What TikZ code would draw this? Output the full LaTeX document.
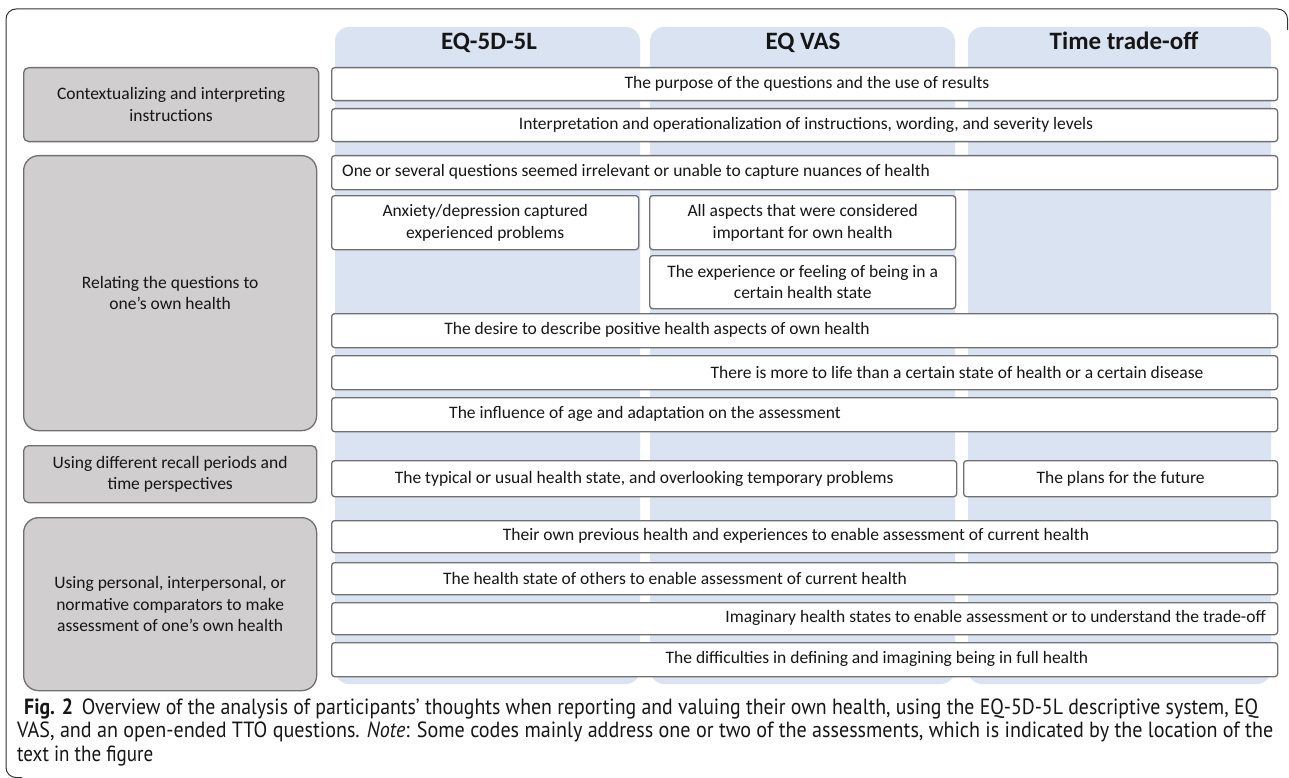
\documentclass[tikz,border=0pt]{standalone}
\usepackage{fontspec}
\usepackage{graphicx}
\setmainfont{Carlito}
\newfontfamily\capfont{PT Sans}
\definecolor{colblue}{RGB}{218,227,242}
\definecolor{catgray}{RGB}{208,206,206}
\definecolor{edgegray}{RGB}{112,112,112}
\definecolor{txtc}{RGB}{22,22,22}
\definecolor{framec}{RGB}{50,50,50}
\newsavebox\fitbox
\newcommand\fitline[2]{\sbox\fitbox{#2}\pgfmathsetmacro\fitratio{#1/\the\wd\fitbox}\scalebox{\fitratio}[1]{\usebox\fitbox}}
\tikzset{
  rowbox/.style={draw=edgegray, line width=1.3pt, fill=white, rounded corners=3pt, inner sep=0pt, anchor=north west},
  catbox/.style={draw=edgegray, line width=1.3pt, fill=catgray, rounded corners=#1, inner sep=0pt, anchor=north west},
  lbl/.style={inner sep=0pt, align=center, text=txtc},
  hdr/.style={font=\fontsize{25}{29}\selectfont\bfseries, inner sep=0pt, anchor=base, text=txtc},
  colbg/.style={fill=colblue, draw=none, rounded corners=14pt},
  capline/.style={inner sep=0pt, anchor=base west, text=txtc, font=\capfont\fontsize{22}{24}\selectfont},
}
\begin{document}
\begin{tikzpicture}[x=1pt, y=-1pt, font=\fontsize{17.5}{21.5}\selectfont]
\useasboundingbox (0,0) rectangle (1289,778);
% frame
\draw[framec, line width=1pt, rounded corners=10pt] (22,777.5) -- (6,777.5) -- (6,9) -- (1287.5,9) -- (1287.5,30);
% column backgrounds
\fill[colbg] (335,27) rectangle (640,684);
\fill[colbg] (650,27) rectangle (955,684);
\fill[colbg] (968,27) rectangle (1271,684);
% headers
\node[hdr] (h1) at (489,50) {EQ-5D-5L};
\node[hdr] (h2) at (803,50) {EQ VAS};
\node[hdr] (h3) at (1124,50) {Time trade-off};
% category boxes
\node[catbox=5pt, minimum width=295pt, minimum height=74pt] (g1) at (23,67) {};
\node[lbl] (g1t) at (g1.center) {Contextualizing and interpreting\\instructions};
\node[catbox=15pt, minimum width=293pt, minimum height=275pt] (g2) at (23,155) {};
\node[lbl] (g2t) at (g2.center) {Relating the questions to\\one’s own health};
\node[catbox=5pt, minimum width=293pt, minimum height=57pt] (g3) at (23,445) {};
\node[lbl] (g3t) at (g3.center) {Using different recall periods and\\time perspectives};
\node[catbox=15pt, minimum width=293pt, minimum height=173pt] (g4) at (23,517) {};
\node[lbl] (g4t) at (g4.center) {Using personal, interpersonal, or\\normative comparators to make\\assessment of one’s own health};
% rows
\node[rowbox, minimum width=946pt, minimum height=33pt] (r1) at (331,67) {};
\node[lbl] (r1t) at (807,83.5) {The purpose of the questions and the use of results};
\node[rowbox, minimum width=946pt, minimum height=33pt] (r2) at (331,108) {};
\node[lbl] (r2t) at (806,124.5) {Interpretation and operationalization of instructions, wording, and severity levels};
\node[rowbox, minimum width=946pt, minimum height=34pt] (r3) at (331,155) {};
\node[lbl, anchor=west] (r3t) at (342,172) {One or several questions seemed irrelevant or unable to capture nuances of health};
\node[rowbox, minimum width=307pt, minimum height=54pt] (r4a) at (331,195) {};
\node[lbl] (r4at) at (r4a.center) {Anxiety/depression captured\\experienced problems};
\node[rowbox, minimum width=306pt, minimum height=54pt] (r4b) at (649,195) {};
\node[lbl] (r4bt) at (r4b.center) {All aspects that were considered\\important for own health};
\node[rowbox, minimum width=306pt, minimum height=53pt] (r5) at (649,255) {};
\node[lbl] (r5t) at (r5.center) {The experience or feeling of being in a\\certain health state};
\node[rowbox, minimum width=946pt, minimum height=34pt] (r6) at (331,313) {};
\node[lbl] (r6t) at (657,330) {The desire to describe positive health aspects of own health};
\node[rowbox, minimum width=946pt, minimum height=34pt] (r7) at (331,355) {};
\node[lbl] (r7t) at (957,372) {There is more to life than a certain state of health or a certain disease};
\node[rowbox, minimum width=946pt, minimum height=34pt] (r8) at (331,397) {};
\node[lbl] (r8t) at (645,414) {The influence of age and adaptation on the assessment};
\node[rowbox, minimum width=625pt, minimum height=36pt] (r9a) at (331,460) {};
\node[lbl] (r9at) at (r9a.center) {The typical or usual health state, and overlooking temporary problems};
\node[rowbox, minimum width=314pt, minimum height=36pt] (r9b) at (963,460) {};
\node[lbl] (r9bt) at (r9b.center) {The plans for the future};
\node[rowbox, minimum width=946pt, minimum height=32pt] (r10) at (331,520) {};
\node[lbl] (r10t) at (796,536) {Their own previous health and experiences to enable assessment of current health};
\node[rowbox, minimum width=946pt, minimum height=32pt] (r11) at (331,562) {};
\node[lbl] (r11t) at (675,578) {The health state of others to enable assessment of current health};
\node[rowbox, minimum width=946pt, minimum height=32pt] (r12) at (331,602) {};
\node[lbl, anchor=east] (r12t) at (1266,618) {Imaginary health states to enable assessment or to understand the trade-off};
\node[rowbox, minimum width=946pt, minimum height=34pt] (r13) at (331,642) {};
\node[lbl] (r13t) at (877,659) {The difficulties in defining and imagining being in full health};
% caption
\node[capline] (c1) at (24,714) {\fitline{1234pt}{\textbf{Fig. 2}\hspace{0.45em}Overview of the analysis of participants’ thoughts when reporting and valuing their own health, using the EQ-5D-5L descriptive system, EQ}};
\node[capline] (c2) at (17,737.5) {\fitline{1256pt}{VAS, and an open-ended TTO questions. \textit{Note}: Some codes mainly address one or two of the assessments, which is indicated by the location of the}};
\node[capline] (c3) at (17,761) {\fitline{136pt}{text in the figure}};
\end{tikzpicture}
\end{document}
